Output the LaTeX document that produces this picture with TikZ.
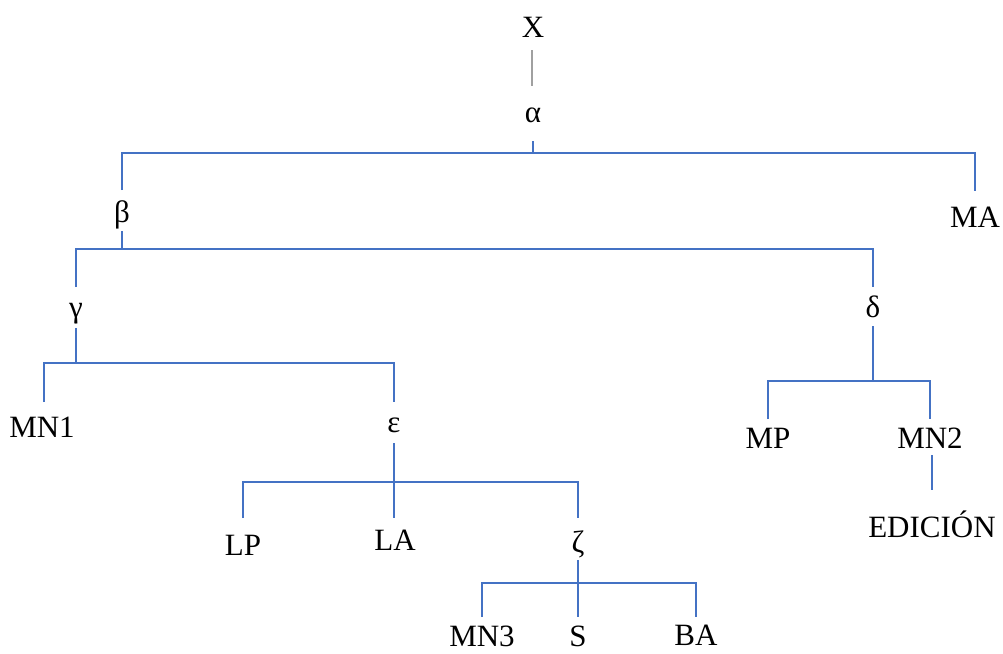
\documentclass[tikz,border=0pt]{standalone}
\usepackage{fontspec}
\setmainfont{Liberation Serif}
\definecolor{lineblue}{HTML}{4472C4}
\definecolor{linegray}{HTML}{A0A0A0}
\begin{document}
\begin{tikzpicture}[x=1pt,y=-1pt,
  lbl/.style={anchor=base,inner sep=0pt,font=\fontsize{31}{37}\selectfont},
  br/.style={draw=lineblue,line width=2.7pt},
  gr/.style={draw=linegray,line width=2.4pt}]
\useasboundingbox (0,0) rectangle (1003,653);
% labels
\node[lbl] (X) at (533,37) {X};
\node[lbl] (alpha) at (533,122) {α};
\node[lbl] (beta) at (122,222) {β};
\node[lbl] (MA) at (975,227) {MA};
\node[lbl] (gamma) at (76,317) {γ};
\node[lbl] (delta) at (873,317) {δ};
\node[lbl] (MN1) at (42,437) {MN1};
\node[lbl] (eps) at (394,432) {ε};
\node[lbl] (MP) at (768,448) {MP};
\node[lbl] (MN2) at (930,448) {MN2};
\node[lbl] (EDICION) at (932,537) {EDICIÓN};
\node[lbl] (LP) at (243,555) {LP};
\node[lbl] (LA) at (395,550) {LA};
\node[lbl] (zeta) at (578,552) {ζ};
\node[lbl] (MN3) at (482,646) {MN3};
\node[lbl] (S) at (578,646) {S};
\node[lbl] (BA) at (696,645) {BA};
% connector ends
\coordinate (Xs) at (532,50);   \coordinate (alphan) at (532,86);
\coordinate (alphas) at (533,141); \coordinate (ja) at (533,153);
\coordinate (betan) at (122,190);  \coordinate (MAn) at (975,191);
\coordinate (betas) at (122,231);  \coordinate (jb) at (122,249);
\coordinate (gamman) at (76,287);  \coordinate (deltan) at (873,287);
\coordinate (gammas) at (76,328);  \coordinate (jg) at (76,363);
\coordinate (MN1n) at (44,402);    \coordinate (epsn) at (394,402);
\coordinate (epss) at (394,443);   \coordinate (je) at (394,482);
\coordinate (LPn) at (243,518);    \coordinate (LAn) at (394,518);  \coordinate (zetan) at (578,518);
\coordinate (zetas) at (578,560);  \coordinate (jz) at (578,583);
\coordinate (MN3n) at (482,617);   \coordinate (Sn) at (578,617);   \coordinate (BAn) at (696,617);
\coordinate (deltas) at (873,326); \coordinate (jd) at (873,381);
\coordinate (MPn) at (768,419);    \coordinate (MN2n) at (930,419);
\coordinate (MN2s) at (932,455);   \coordinate (EDn) at (932,490);
% connectors
\draw[gr] (Xs) -- (alphan);
\draw[br] (alphas) -- (ja);
\draw[br] (betan) -- (betan |- ja) -- (MAn |- ja) -- (MAn);
\draw[br] (betas) -- (jb);
\draw[br] (gamman) -- (gamman |- jb) -- (deltan |- jb) -- (deltan);
\draw[br] (gammas) -- (jg);
\draw[br] (MN1n) -- (MN1n |- jg) -- (epsn |- jg) -- (epsn);
\draw[br] (epss) -- (LAn);
\draw[br] (LPn) -- (LPn |- je) -- (zetan |- je) -- (zetan);
\draw[br] (zetas) -- (Sn);
\draw[br] (MN3n) -- (MN3n |- jz) -- (BAn |- jz) -- (BAn);
\draw[br] (deltas) -- (jd);
\draw[br] (MPn) -- (MPn |- jd) -- (MN2n |- jd) -- (MN2n);
\draw[br] (MN2s) -- (EDn);
\end{tikzpicture}
\end{document}
